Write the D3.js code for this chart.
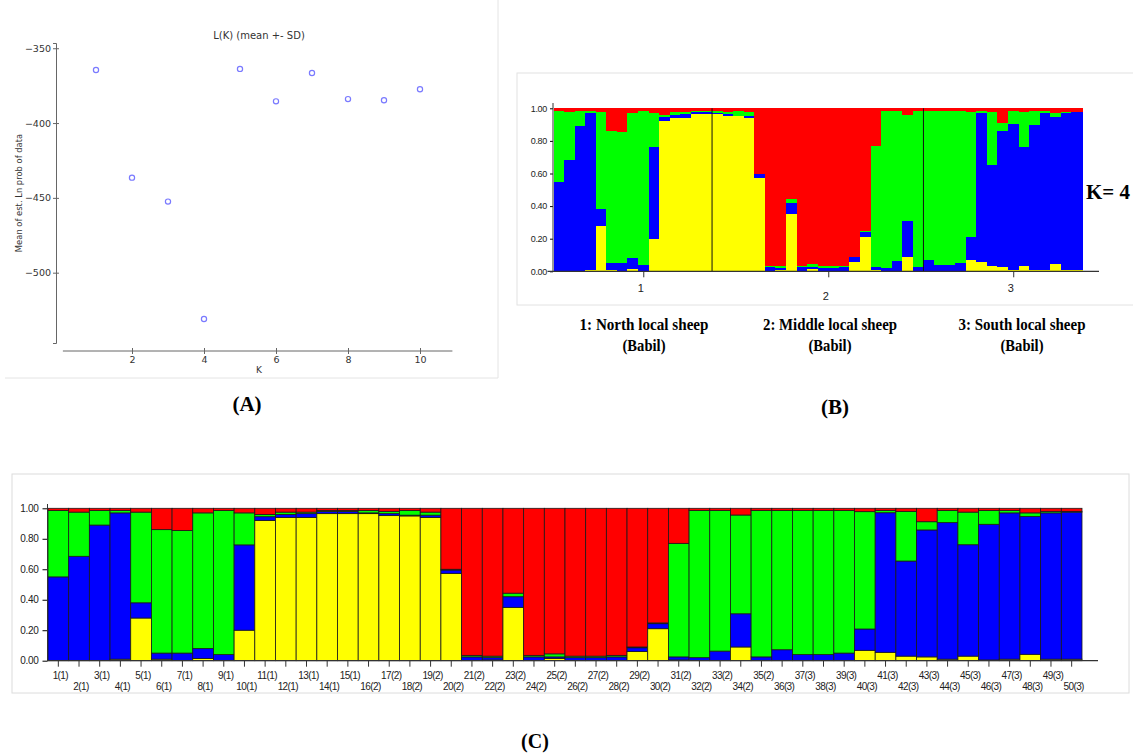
<!DOCTYPE html>
<html>
<head>
<meta charset="utf-8">
<script src="https://cdn.jsdelivr.net/npm/d3@7"></script>
<style>
  body { margin: 0; background: #fff; }
  svg { display: block; }
  .serif { font-family: "Liberation Serif", "Times New Roman", serif; font-weight: bold; }
  .mpl text { font-family: "DejaVu Sans", sans-serif; fill: #333; }
  .strc text { font-family: "Liberation Sans", Arial, sans-serif; fill: #222; }
</style>
</head>
<body>
<svg id="fig" width="1133" height="754"></svg>
<script>
// ---- Panel A: L(K) for K = 1..10
const kValues = [1, 2, 3, 4, 5, 6, 7, 8, 9, 10];
const lnProb = [-364.5, -436.5, -452.5, -531, -363.8, -385.5, -366.5, -384, -384.8, -377.4];
const lnTicks = [-350, -400, -450, -500];
const kTicks = [2, 4, 6, 8, 10];

// ---- Panels B and C: ancestry proportions per individual (K = 4)
const groupSizes = [15, 20, 15];
const yellowQ = [0, 0, 0, .01, .28, .01, 0, .015, 0, .20,
  .92, .94, .94, .965, .965, .965, .952, .95, .94, .573,
  0, .005, .35, 0, .015, 0, 0, 0, .06, .21,
  .005, 0, 0, .09, 0, 0, 0, 0, 0, .068,
  .055, .03, .025, .01, .03, .005, .01, .042, .01, .01];
const blueQ = [.55, .685, .89, .96, .10, .04, .05, .065, .04, .56,
  .025, .02, .025, .015, .015, .005, .013, .005, .015, .022,
  .025, .015, .07, .025, .01, .02, .02, .025, .025, .033,
  .02, .02, .063, .218, .025, .072, .04, .04, .05, .14,
  .916, .624, .833, .896, .731, .89, .96, .905, .96, .965];
const greenQ = [.435, .29, .095, .015, .595, .81, .805, .89, .945, .21,
  .015, .015, .01, .005, .005, .015, .015, .03, .02, .005,
  .01, .01, .023, .01, .02, .01, .01, .01, .005, .005,
  .745, .965, .922, .648, .96, .913, .945, .945, .935, .77,
  .014, .326, .054, .079, .214, .09, .015, .023, .01, .005];
const redQ = [.015, .025, .015, .015, .025, .14, .145, .03, .015, .03,
  .04, .025, .025, .015, .015, .015, .02, .015, .025, .40,
  .965, .97, .557, .965, .955, .97, .97, .965, .91, .752,
  .23, .015, .015, .044, .015, .015, .015, .015, .015, .022,
  .015, .02, .088, .015, .025, .015, .015, .03, .02, .02];
const clusterColors = ['#ffff00', '#0000ff', '#00ff00', '#ff0000'];
const qTicks = [0, 0.2, 0.4, 0.6, 0.8, 1.0];
const groupNames = ['1: North local sheep', '2: Middle local sheep', '3: South local sheep'];
const groupSub = '(Babil)';

// build individual records (id, population, stacked segments)
const pops = groupSizes.flatMap((n, g) => d3.range(n).map(() => g + 1));
const individuals = pops.map((p, i) => {
  const q = [yellowQ[i], blueQ[i], greenQ[i], redQ[i]];
  let acc = 0;
  const segs = q.map((v, c) => { const s = {y0: acc, y1: acc + v, c}; acc += v; return s; });
  segs[3].y1 = 1;
  return {id: i + 1, pop: p, label: `${i + 1}(${p})`, segs};
});

const svg = d3.select('#fig');

// ================= Panel A =================
const gA = svg.append('g').attr('class', 'mpl');
gA.append('line').attr('x1', 498).attr('x2', 498).attr('y1', 0).attr('y2', 378).attr('stroke', '#e4e4e4');
gA.append('line').attr('x1', 5).attr('x2', 498).attr('y1', 378).attr('y2', 378).attr('stroke', '#e4e4e4');

const xA = d3.scaleLinear().domain([0, 10]).range([60, 420]);
const yA = d3.scaleLinear().domain([-547, -346.5]).range([343, 43]);

const yAxisA = gA.append('g').attr('transform', 'translate(56,0)')
  .call(d3.axisLeft(yA).tickValues(lnTicks).tickSize(3).tickPadding(2));
yAxisA.select('.domain').attr('stroke', '#666');
yAxisA.selectAll('.tick line').attr('stroke', '#666');
yAxisA.selectAll('.tick').append('line').attr('x2', 3).attr('stroke', '#666');
yAxisA.selectAll('text').attr('font-size', 9.5).attr('fill', '#333').attr('font-family', 'DejaVu Sans');

const xAxisA = gA.append('g').attr('transform', 'translate(0,351)')
  .call(d3.axisBottom(xA).tickValues(kTicks).tickSize(3).tickPadding(2));
xAxisA.select('.domain').remove();
xAxisA.append('line').attr('x1', xA(0.08)).attr('x2', xA(10.9)).attr('stroke', '#666');
xAxisA.selectAll('.tick line').attr('stroke', '#666');
xAxisA.selectAll('.tick').append('line').attr('y2', -3).attr('stroke', '#666');
xAxisA.selectAll('text').attr('font-size', 9.5).attr('fill', '#333').attr('font-family', 'DejaVu Sans');

gA.append('text').attr('x', 259).attr('y', 39).attr('text-anchor', 'middle')
  .attr('font-size', 10).text('L(K) (mean +- SD)');
gA.append('text').attr('x', 259).attr('y', 373).attr('text-anchor', 'middle')
  .attr('font-size', 9).text('K');
gA.append('text').attr('transform', 'translate(22,193) rotate(-90)').attr('text-anchor', 'middle')
  .attr('font-size', 8.4).text('Mean of est. Ln prob of data');

gA.selectAll('circle.pt').data(kValues).join('circle')
  .attr('class', 'pt')
  .attr('cx', d => xA(d))
  .attr('cy', (d, i) => yA(lnProb[i]))
  .attr('r', 2.6)
  .attr('fill', 'none')
  .attr('stroke', '#7a7aff')
  .attr('stroke-width', 1.2);

svg.append('text').attr('class', 'serif').attr('x', 247).attr('y', 411)
  .attr('text-anchor', 'middle').attr('font-size', 21).text('(A)');

// ================= Panel B =================
const gB = svg.append('g').attr('class', 'strc');
gB.append('rect').attr('x', 517).attr('y', 73).attr('width', 640).attr('height', 232)
  .attr('fill', 'none').attr('stroke', '#e2e2e2');

const xB = d3.scaleBand().domain(individuals.map(d => d.id)).range([553.5, 1082]);
const yB = d3.scaleLinear().domain([0, 1]).range([271.3, 108.3]);

gB.append('g').attr('shape-rendering', 'crispEdges')
  .selectAll('g').data(individuals).join('g')
  .selectAll('rect').data(d => d.segs.map(s => ({...s, id: d.id}))).join('rect')
  .attr('x', d => xB(d.id))
  .attr('width', xB.bandwidth() + 0.5)
  .attr('y', d => yB(d.y1))
  .attr('height', d => yB(d.y0) - yB(d.y1))
  .attr('fill', d => clusterColors[d.c]);

// population separators
const cumB = d3.cumsum(groupSizes);
gB.selectAll('line.sep').data(cumB.slice(0, -1)).join('line')
  .attr('class', 'sep')
  .attr('x1', d => xB(d + 1)).attr('x2', d => xB(d + 1))
  .attr('y1', yB(0)).attr('y2', yB(1))
  .attr('stroke', '#111').attr('stroke-width', 1);

const yAxisB = gB.append('g').attr('transform', 'translate(553,0)')
  .call(d3.axisLeft(yB).tickValues(qTicks).tickFormat(d3.format('.2f')).tickSize(3).tickPadding(3));
yAxisB.select('.domain').remove();
yAxisB.append('line').attr('y1', 103).attr('y2', yB(0)).attr('stroke', '#333');
yAxisB.selectAll('text').attr('font-size', 9).attr('fill', '#333').attr('letter-spacing', '-0.3px');

gB.append('line').attr('x1', 547.5).attr('x2', 1099).attr('y1', yB(0)).attr('y2', yB(0))
  .attr('stroke', '#333').attr('stroke-width', 1.2);

const groupCenters = groupSizes.map((n, g) => {
  const first = d3.sum(groupSizes.slice(0, g)) + 1;
  return xB(first) + n * xB.bandwidth() / 2 + 11;
});
gB.selectAll('line.gt').data(groupCenters).join('line')
  .attr('class', 'gt')
  .attr('x1', d => d).attr('x2', d => d)
  .attr('y1', yB(0)).attr('y2', yB(0) + 6).attr('stroke', '#333');
gB.selectAll('text.gl').data(groupCenters).join('text')
  .attr('class', 'gl')
  .attr('x', d => d - 3)
  .attr('y', (d, i) => i === 1 ? 300 : 292)
  .attr('text-anchor', 'middle').attr('font-size', 11).attr('fill', '#444')
  .text((d, i) => i + 1);

const nameX = [644, 830, 1022];
const nameW = [129, 134, 127];
svg.selectAll('text.gname').data(groupNames).join('text')
  .attr('class', 'serif gname')
  .attr('x', (d, i) => nameX[i] - nameW[i] / 2).attr('y', 330)
  .attr('font-size', 17.5)
  .attr('textLength', (d, i) => nameW[i]).attr('lengthAdjust', 'spacingAndGlyphs')
  .text(d => d);
svg.selectAll('text.gsub').data(groupNames).join('text')
  .attr('class', 'serif gsub')
  .attr('x', (d, i) => nameX[i] - 21.5).attr('y', 351)
  .attr('font-size', 17.5)
  .attr('textLength', 43).attr('lengthAdjust', 'spacingAndGlyphs')
  .text(groupSub);

svg.append('text').attr('class', 'serif').attr('x', 1086).attr('y', 199)
  .attr('font-size', 22).attr('textLength', 44).attr('lengthAdjust', 'spacingAndGlyphs').text('K= 4');

svg.append('text').attr('class', 'serif').attr('x', 835).attr('y', 414)
  .attr('text-anchor', 'middle').attr('font-size', 21).text('(B)');

// ================= Panel C =================
const gC = svg.append('g').attr('class', 'strc');
gC.append('rect').attr('x', 12).attr('y', 474).attr('width', 1117).attr('height', 219)
  .attr('fill', 'none').attr('stroke', '#dcdcdc');

const xC = d3.scaleBand().domain(individuals.map(d => d.id)).range([48, 1082]);
const yC = d3.scaleLinear().domain([0, 1]).range([660.7, 508.3]);

gC.append('g').selectAll('g').data(individuals).join('g')
  .selectAll('rect').data(d => d.segs.map(s => ({...s, id: d.id}))).join('rect')
  .attr('x', d => xC(d.id))
  .attr('width', xC.bandwidth())
  .attr('y', d => yC(d.y1))
  .attr('height', d => yC(d.y0) - yC(d.y1))
  .attr('fill', d => clusterColors[d.c])
  .attr('stroke', '#1a1a1a')
  .attr('stroke-width', 0.8);

const yAxisC = gC.append('g').attr('transform', 'translate(47.5,0)')
  .call(d3.axisLeft(yC).tickValues(qTicks).tickFormat(d3.format('.2f')).tickSize(5).tickPadding(4));
yAxisC.select('.domain').remove();
yAxisC.append('line').attr('y1', 504).attr('y2', yC(0)).attr('stroke', '#333');
yAxisC.selectAll('text').attr('font-size', 10).attr('fill', '#333').attr('letter-spacing', '-0.3px');

const xAxisC = gC.append('g').attr('transform', `translate(0,${yC(0)})`)
  .call(d3.axisBottom(xC).tickSize(6).tickFormat(id => individuals[id - 1].label));
xAxisC.select('.domain').remove();
xAxisC.append('line').attr('x1', 47).attr('x2', 1098).attr('stroke', '#333').attr('stroke-width', 1.2);
xAxisC.selectAll('.tick line').attr('stroke', '#333');
xAxisC.selectAll('.tick text')
  .attr('font-size', 10).attr('fill', '#222').attr('letter-spacing', '-0.6px')
  .attr('dx', 2)
  .attr('y', (id) => id % 2 === 1 ? 11 : 22);

svg.append('text').attr('class', 'serif').attr('x', 535).attr('y', 748)
  .attr('text-anchor', 'middle').attr('font-size', 20).text('(C)');
</script>
</body>
</html>
